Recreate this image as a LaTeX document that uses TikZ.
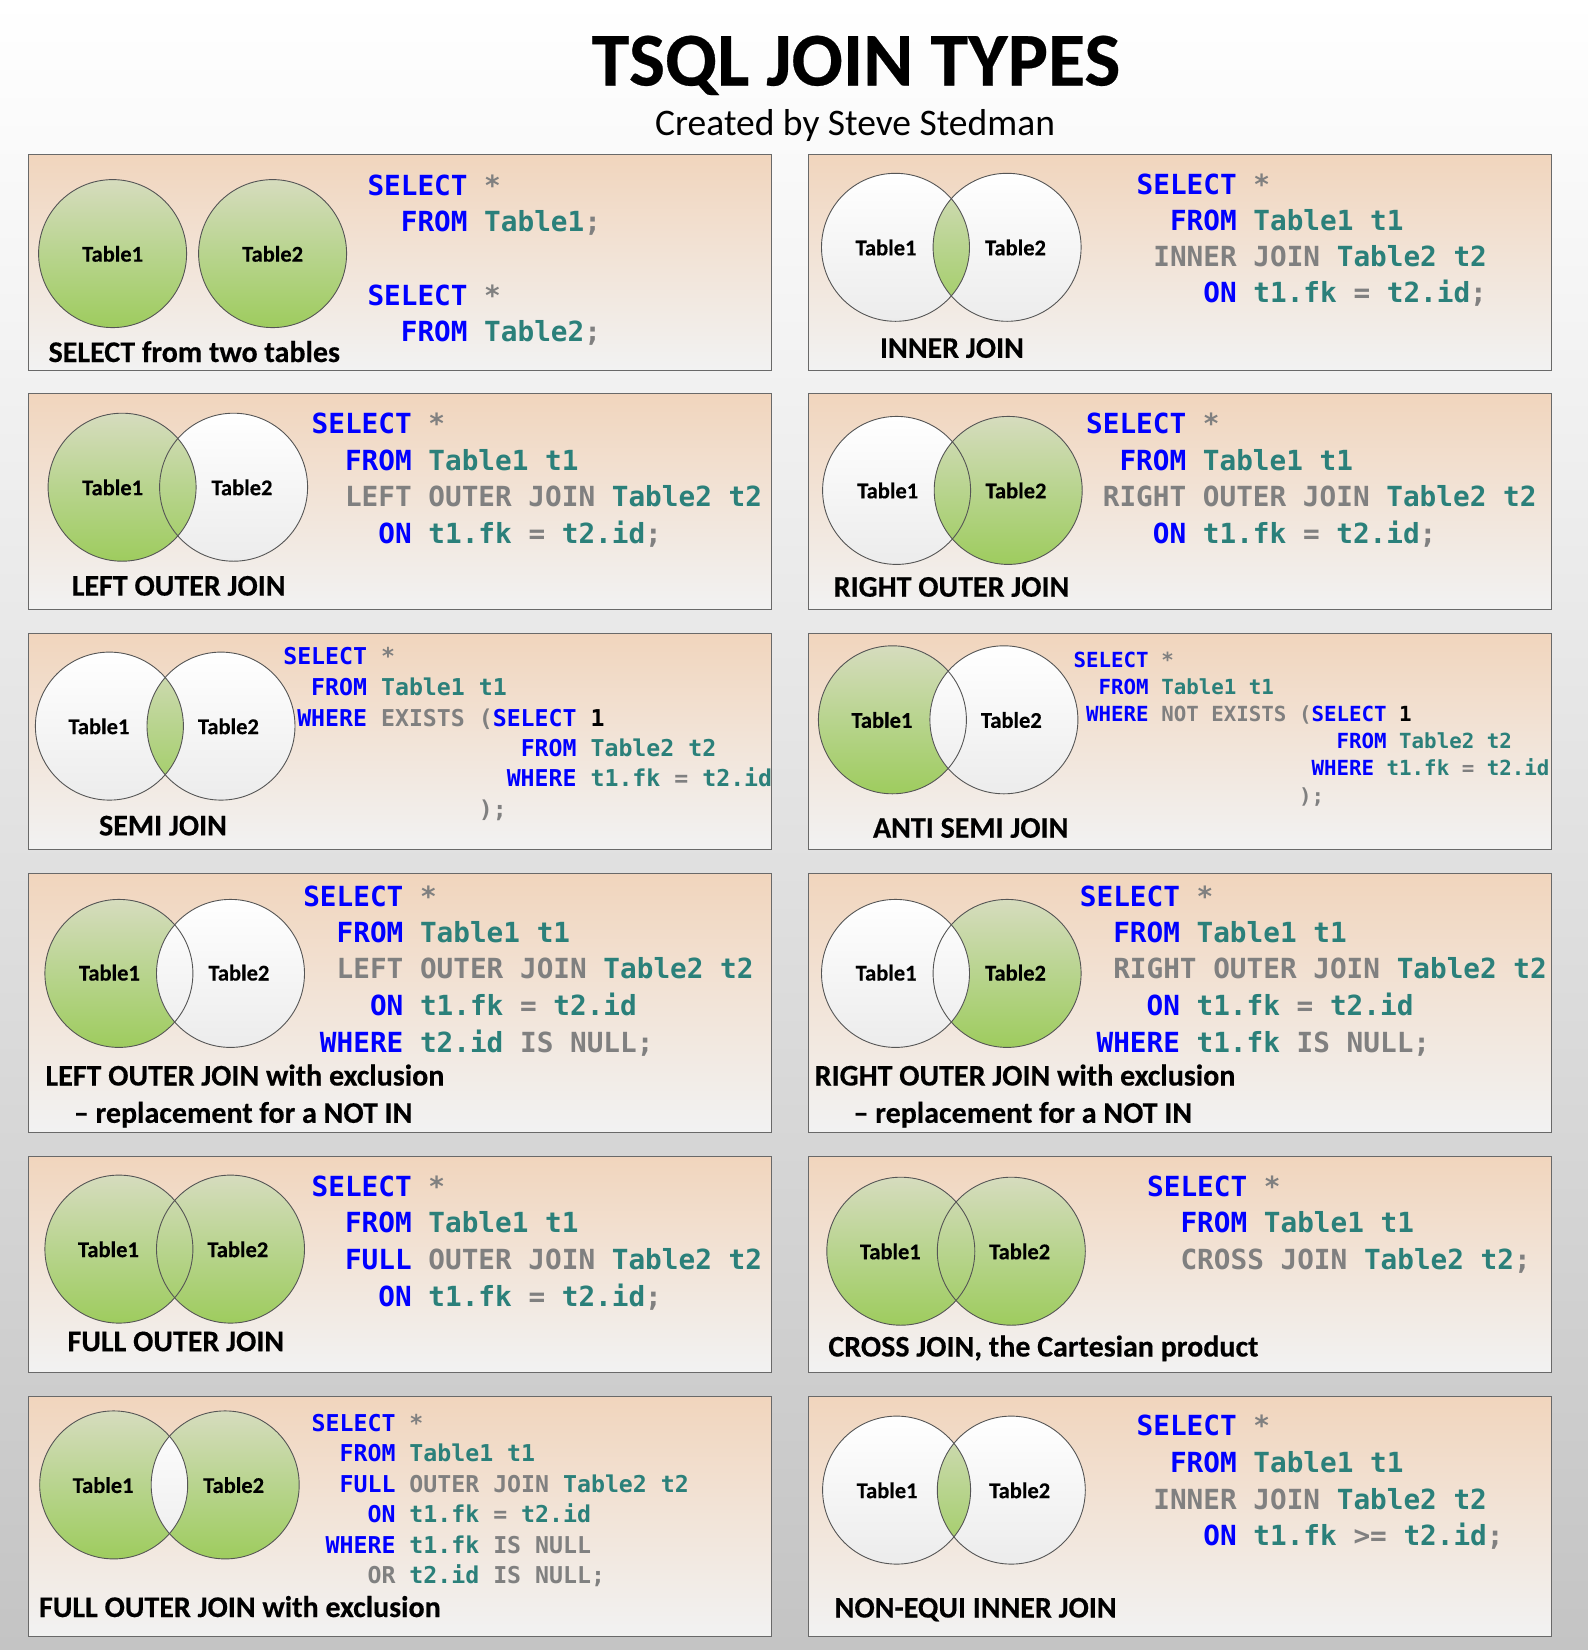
\documentclass[tikz,border=0pt]{standalone}
\usepackage{fontspec}
\setmainfont{Carlito}
\setmonofont{DejaVu Sans Mono}
\newfontfamily\heavyfont{Carlito}[BoldFeatures={FakeBold=0.35}]
\frenchspacing
\definecolor{kwblue}{RGB}{0,0,255}
\definecolor{tealc}{RGB}{43,128,122}
\definecolor{sqlgray}{RGB}{128,128,128}
\definecolor{bggray}{RGB}{196,196,196}
\definecolor{peach}{RGB}{241,213,189}
\definecolor{peachmid}{RGB}{242,228,216}
\definecolor{panelbot}{RGB}{242,242,242}
\definecolor{panelline}{RGB}{105,105,105}
\definecolor{gtop}{RGB}{214,220,190}
\definecolor{gmid}{RGB}{184,212,142}
\definecolor{gbot}{RGB}{158,204,94}
\definecolor{wbot}{RGB}{236,236,236}
\definecolor{ringc}{RGB}{85,85,85}
\newcommand\ckw[1]{\textcolor{kwblue}{#1}}
\newcommand\cgr[1]{\textcolor{sqlgray}{#1}}
\newcommand\ctb[1]{\textcolor{tealc}{#1}}
\newcommand\cbk[1]{\textcolor{black}{#1}}
\newcommand\bigcode{\ttfamily\bfseries\fontsize{27.7}{30}\selectfont}
\newcommand\smallcode{\ttfamily\bfseries\fontsize{23.2}{26}\selectfont}
\newcommand\tinycode{\ttfamily\bfseries\fontsize{20.8}{24}\selectfont}
\tikzset{
 panelbox/.style={top color=peach, bottom color=panelbot, middle color=peachmid, draw=panelline, line width=1.3pt},
 gfill/.style={top color=gtop, bottom color=gbot, middle color=gmid},
 wfill/.style={top color=white, bottom color=wbot},
 ringline/.style={draw=ringc, line width=0.9pt},
 lbltxt/.style={anchor=base, inner sep=0, font=\heavyfont\fontsize{22.5}{24}\selectfont\bfseries},
 captxt/.style={anchor=base west, inner sep=0, font=\heavyfont\fontsize{30}{32}\selectfont\bfseries},
 codebig/.style={anchor=base west, inner sep=0, font=\bigcode},
 codesmall/.style={anchor=base west, inner sep=0, font=\smallcode},
 codetiny/.style={anchor=base west, inner sep=0, font=\tinycode},
}
% #1 xA, #2 xB, #3 y, #4 fill A, #5 fill B, #6 fill intersection
\newcommand\venndiag[6]{%
 \path[#4] (#1,#3) circle[radius=74pt];
 \path[#5] (#2,#3) circle[radius=74pt];
 \begin{scope}
  \clip (#1,#3) circle[radius=74pt];
  \path[#6] (#2,#3) circle[radius=74pt];
 \end{scope}
 \draw[ringline] (#1,#3) circle[radius=74pt];
 \draw[ringline] (#2,#3) circle[radius=74pt];
}
\begin{document}
\begin{tikzpicture}[x=1pt,y=-1pt]
\useasboundingbox (0,0) rectangle (1588,1650);
\shade[top color=white, bottom color=bggray] (0,0) rectangle (1588,1650);

\node[anchor=base, inner sep=0, font=\heavyfont\fontsize{76}{80}\selectfont\bfseries] (title) at (856,85.5) {TSQL JOIN TYPES};
\node[anchor=base, inner sep=0, font=\fontsize{37.5}{40}\selectfont] (subtitle) at (855,135) {Created by Steve Stedman};

% panels
\path[panelbox] (28.4,154.7) rectangle (771.4,370.4);
\path[panelbox] (808.2,154.7) rectangle (1551.2,370.4);
\path[panelbox] (28.4,393.6) rectangle (771.4,609.3);
\path[panelbox] (808.2,393.6) rectangle (1551.2,609.3);
\path[panelbox] (28.4,633.5) rectangle (771.4,849.3);
\path[panelbox] (808.2,633.5) rectangle (1551.2,849.3);
\path[panelbox] (28.4,873.5) rectangle (771.4,1132.3);
\path[panelbox] (808.2,873.5) rectangle (1551.2,1132.3);
\path[panelbox] (28.4,1156.5) rectangle (771.4,1372.3);
\path[panelbox] (808.2,1156.5) rectangle (1551.2,1372.3);
\path[panelbox] (28.4,1396.5) rectangle (771.4,1636.4);
\path[panelbox] (808.2,1396.5) rectangle (1551.2,1636.4);

% ---------- Panel 1: two tables
\path[gfill] (112.6,253.6) circle[radius=74pt];
\path[gfill] (272.6,253.6) circle[radius=74pt];
\draw[ringline] (112.6,253.6) circle[radius=74pt];
\draw[ringline] (272.6,253.6) circle[radius=74pt];
\node[lbltxt] (p1t1) at (112.6,261.6) {Table1};
\node[lbltxt] (p1t2) at (272.6,261.6) {Table2};
\node[captxt] (p1cap) at (48.4,362) {SELECT from two tables};
\node[codebig] (p1a) at (367.3,195.7) {\ckw{SELECT} \cgr{*}};
\node[codebig] (p1b) at (367.3,231.5) {~~\ckw{FROM} \ctb{Table1}\cgr{;}};
\node[codebig] (p1c) at (367.3,305.2) {\ckw{SELECT} \cgr{*}};
\node[codebig] (p1d) at (367.3,341.7) {~~\ckw{FROM} \ctb{Table2}\cgr{;}};

% ---------- Panel 2: inner join
\venndiag{895.5}{1007.1}{247.3}{wfill}{wfill}{gfill}
\node[lbltxt] (p2t1) at (886,255.3) {Table1};
\node[lbltxt] (p2t2) at (1015.5,255.3) {Table2};
\node[captxt] (p2cap) at (879.8,357.8) {INNER JOIN};
\node[codebig] (p2a) at (1136.5,194.7) {\ckw{SELECT} \cgr{*}};
\node[codebig] (p2b) at (1136.5,230.6) {~~\ckw{FROM} \ctb{Table1 t1}};
\node[codebig] (p2c) at (1136.5,266.7) {~\cgr{INNER JOIN} \ctb{Table2 t2}};
\node[codebig] (p2d) at (1136.5,302.7) {~~~~\ckw{ON} \ctb{t1.fk} \cgr{=} \ctb{t2.id}\cgr{;}};

% ---------- Panel 3: left outer join
\venndiag{122.1}{233.6}{487.2}{gfill}{wfill}{gfill}
\node[lbltxt] (p3t1) at (112.6,495.2) {Table1};
\node[lbltxt] (p3t2) at (242,495.2) {Table2};
\node[captxt] (p3cap) at (71.6,595.6) {LEFT OUTER JOIN};
\node[codebig] (p3a) at (311.5,433.6) {\ckw{SELECT} \cgr{*}};
\node[codebig] (p3b) at (311.5,470.4) {~~\ckw{FROM} \ctb{Table1 t1}};
\node[codebig] (p3c) at (311.5,506.2) {~~\cgr{LEFT OUTER JOIN} \ctb{Table2 t2}};
\node[codebig] (p3d) at (311.5,543) {~~~~\ckw{ON} \ctb{t1.fk} \cgr{=} \ctb{t2.id}\cgr{;}};

% ---------- Panel 4: right outer join
\venndiag{896.6}{1008.2}{490.4}{wfill}{gfill}{gfill}
\node[lbltxt] (p4t1) at (887.7,498.3) {Table1};
\node[lbltxt] (p4t2) at (1016,498.3) {Table2};
\node[captxt] (p4cap) at (833.5,596.7) {RIGHT OUTER JOIN};
\node[codebig] (p4a) at (1086,433.6) {\ckw{SELECT} \cgr{*}};
\node[codebig] (p4b) at (1086,470.4) {~~\ckw{FROM} \ctb{Table1 t1}};
\node[codebig] (p4c) at (1086,506.2) {~\cgr{RIGHT OUTER JOIN} \ctb{Table2 t2}};
\node[codebig] (p4d) at (1086,543) {~~~~\ckw{ON} \ctb{t1.fk} \cgr{=} \ctb{t2.id}\cgr{;}};

% ---------- Panel 5: semi join
\venndiag{109.4}{221}{726.1}{wfill}{wfill}{gfill}
\node[lbltxt] (p5t1) at (98.9,734.1) {Table1};
\node[lbltxt] (p5t2) at (228.4,734.1) {Table2};
\node[captxt] (p5cap) at (98.9,835.4) {SEMI JOIN};
\node[codesmall] (p5a) at (283.1,664.5) {\ckw{SELECT} \cgr{*}};
\node[codesmall] (p5b) at (283.1,695) {~~\ckw{FROM} \ctb{Table1 t1}};
\node[codesmall] (p5c) at (283.1,726) {~\ckw{WHERE} \cgr{EXISTS (}\ckw{SELECT} \cbk{1}};
\node[codesmall] (p5d) at (283.1,756) {~~~~~~~~~~~~~~~~~\ckw{FROM} \ctb{Table2 t2}};
\node[codesmall] (p5e) at (283.1,786) {~~~~~~~~~~~~~~~~\ckw{WHERE} \ctb{t1.fk} \cgr{=} \ctb{t2.id}};
\node[codesmall] (p5f) at (283.1,817) {~~~~~~~~~~~~~~\cgr{);}};

% ---------- Panel 6: anti semi join
\venndiag{892.4}{1003.9}{719.8}{gfill}{wfill}{wfill}
\node[lbltxt] (p6t1) at (881.9,727.8) {Table1};
\node[lbltxt] (p6t2) at (1011.3,727.8) {Table2};
\node[captxt] (p6cap) at (872.8,837.7) {ANTI SEMI JOIN};
\node[codetiny] (p6a) at (1073.4,667) {\ckw{SELECT} \cgr{*}};
\node[codetiny] (p6b) at (1073.4,694.5) {~~\ckw{FROM} \ctb{Table1 t1}};
\node[codetiny] (p6c) at (1073.4,721.8) {~\ckw{WHERE} \cgr{NOT EXISTS (}\ckw{SELECT} \cbk{1}};
\node[codetiny] (p6d) at (1073.4,748.3) {~~~~~~~~~~~~~~~~~~~~~\ckw{FROM} \ctb{Table2 t2}};
\node[codetiny] (p6e) at (1073.4,775.6) {~~~~~~~~~~~~~~~~~~~\ckw{WHERE} \ctb{t1.fk} \cgr{=} \ctb{t2.id}};
\node[codetiny] (p6f) at (1073.4,803) {~~~~~~~~~~~~~~~~~~\cgr{);}};

% ---------- Panel 7: left outer join with exclusion
\venndiag{118.9}{230.5}{973.4}{gfill}{wfill}{wfill}
\node[lbltxt] (p7t1) at (109.4,980.5) {Table1};
\node[lbltxt] (p7t2) at (238.9,980.5) {Table2};
\node[captxt] (p7cap) at (45.3,1085.5) {LEFT OUTER JOIN with exclusion};
\node[captxt] (p7cap2) at (73.7,1122.8) {– replacement for a NOT IN};
\node[codebig] (p7a) at (303.1,906.1) {\ckw{SELECT} \cgr{*}};
\node[codebig] (p7b) at (303.1,942.9) {~~\ckw{FROM} \ctb{Table1 t1}};
\node[codebig] (p7c) at (303.1,978.7) {~~\cgr{LEFT OUTER JOIN} \ctb{Table2 t2}};
\node[codebig] (p7d) at (303.1,1015.3) {~~~~\ckw{ON} \ctb{t1.fk} \cgr{=} \ctb{t2.id}};
\node[codebig] (p7e) at (303.1,1052.5) {~\ckw{WHERE} \ctb{t2.id} \cgr{IS NULL;}};

% ---------- Panel 8: right outer join with exclusion
\venndiag{895.5}{1007.1}{973.4}{wfill}{gfill}{wfill}
\node[lbltxt] (p8t1) at (886.1,980.5) {Table1};
\node[lbltxt] (p8t2) at (1015.5,980.5) {Table2};
\node[captxt] (p8cap) at (814.5,1085.5) {RIGHT OUTER JOIN with exclusion};
\node[captxt] (p8cap2) at (853.4,1122.8) {– replacement for a NOT IN};
\node[codebig] (p8a) at (1079.7,906.1) {\ckw{SELECT} \cgr{*}};
\node[codebig] (p8b) at (1079.7,942.9) {~~\ckw{FROM} \ctb{Table1 t1}};
\node[codebig] (p8c) at (1079.7,978.7) {~~\cgr{RIGHT OUTER JOIN} \ctb{Table2 t2}};
\node[codebig] (p8d) at (1079.7,1015.3) {~~~~\ckw{ON} \ctb{t1.fk} \cgr{=} \ctb{t2.id}};
\node[codebig] (p8e) at (1079.7,1052.5) {~\ckw{WHERE} \ctb{t1.fk} \cgr{IS NULL;}};

% ---------- Panel 9: full outer join
\venndiag{118.9}{230.5}{1249.1}{gfill}{gfill}{gfill}
\node[lbltxt] (p9t1) at (108.4,1257.1) {Table1};
\node[lbltxt] (p9t2) at (237.8,1257.1) {Table2};
\node[captxt] (p9cap) at (67.4,1351.2) {FULL OUTER JOIN};
\node[codebig] (p9a) at (311.5,1196.5) {\ckw{SELECT} \cgr{*}};
\node[codebig] (p9b) at (311.5,1232.3) {~~\ckw{FROM} \ctb{Table1 t1}};
\node[codebig] (p9c) at (311.5,1269.1) {~~\ckw{FULL} \cgr{OUTER JOIN} \ctb{Table2 t2}};
\node[codebig] (p9d) at (311.5,1306) {~~~~\ckw{ON} \ctb{t1.fk} \cgr{=} \ctb{t2.id}\cgr{;}};

% ---------- Panel 10: cross join
\venndiag{900.8}{1011.3}{1251.2}{gfill}{gfill}{gfill}
\node[lbltxt] (p10t1) at (890.3,1259.2) {Table1};
\node[lbltxt] (p10t2) at (1019.7,1259.2) {Table2};
\node[captxt] (p10cap) at (828.2,1356.5) {CROSS JOIN, the Cartesian product};
\node[codebig] (p10a) at (1147,1196.5) {\ckw{SELECT} \cgr{*}};
\node[codebig] (p10b) at (1147,1232.3) {~~\ckw{FROM} \ctb{Table1 t1}};
\node[codebig] (p10c) at (1147,1269.1) {~~\cgr{CROSS JOIN} \ctb{Table2 t2}\cgr{;}};

% ---------- Panel 11: full outer join with exclusion
\venndiag{113.7}{225.2}{1484.9}{gfill}{gfill}{wfill}
\node[lbltxt] (p11t1) at (103.1,1492.9) {Table1};
\node[lbltxt] (p11t2) at (233.6,1492.9) {Table2};
\node[captxt] (p11cap) at (38.9,1617) {FULL OUTER JOIN with exclusion};
\node[codesmall] (p11a) at (311.5,1431.7) {\ckw{SELECT} \cgr{*}};
\node[codesmall] (p11b) at (311.5,1461.9) {~~\ckw{FROM} \ctb{Table1 t1}};
\node[codesmall] (p11c) at (311.5,1492.2) {~~\ckw{FULL} \cgr{OUTER JOIN} \ctb{Table2 t2}};
\node[codesmall] (p11d) at (311.5,1522.8) {~~~~\ckw{ON} \ctb{t1.fk} \cgr{=} \ctb{t2.id}};
\node[codesmall] (p11e) at (311.5,1553) {~\ckw{WHERE} \ctb{t1.fk} \cgr{IS NULL}};
\node[codesmall] (p11f) at (311.5,1583.5) {~~~~\cgr{OR} \ctb{t2.id} \cgr{IS NULL;}};

% ---------- Panel 12: non-equi inner join
\venndiag{896.6}{1011.3}{1490.1}{wfill}{wfill}{gfill}
\node[lbltxt] (p12t1) at (887.1,1498.1) {Table1};
\node[lbltxt] (p12t2) at (1019.7,1498.1) {Table2};
\node[captxt] (p12cap) at (834.5,1617.5) {NON-EQUI INNER JOIN};
\node[codebig] (p12a) at (1136.5,1435.4) {\ckw{SELECT} \cgr{*}};
\node[codebig] (p12b) at (1136.5,1472.2) {~~\ckw{FROM} \ctb{Table1 t1}};
\node[codebig] (p12c) at (1136.5,1509.1) {~\cgr{INNER JOIN} \ctb{Table2 t2}};
\node[codebig] (p12d) at (1136.5,1545.9) {~~~~\ckw{ON} \ctb{t1.fk} \cgr{>=} \ctb{t2.id}\cgr{;}};
\end{tikzpicture}
\end{document}
